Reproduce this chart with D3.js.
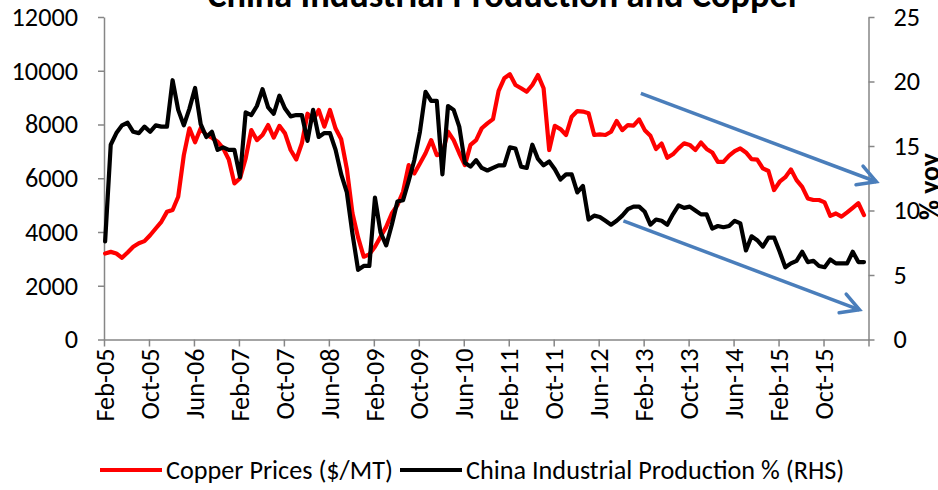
<!DOCTYPE html>
<html>
<head>
<meta charset="utf-8">
<script src="https://cdn.jsdelivr.net/npm/d3@7"></script>
<style>
  body { margin: 0; background: #fff; }
  svg { display: block; }
  text { font-family: Carlito, Lato, "Liberation Sans", sans-serif; fill: #000; }
</style>
</head>
<body>
<svg id="chart" width="938" height="490"></svg>
<script>
// monthly data, Feb-05 .. May-16
const startMonth = new Date(2005, 1, 1);

const copper = [
  3200, 3260, 3200, 3040, 3240, 3450, 3580, 3660, 3880, 4130, 4380,
  4750, 4820, 5310, 6860, 7860, 7340, 7860, 7610, 7510, 7360, 7110, 6700,
  5810, 6000, 6740, 7790, 7420, 7610, 7980, 7510, 7950, 7670, 7050, 6700,
  7300, 8400, 8170, 8540, 7920, 8540, 7850, 7450, 6350, 4700, 3800, 3080,
  3170, 3450, 3820, 4190, 4690, 5000, 5500, 6490, 6180, 6550, 6930, 7420,
  6860, 6930, 7730, 7420, 6930, 6490, 7240, 7420, 7860, 8040, 8200, 9250,
  9720, 9870, 9470, 9350, 9220, 9470, 9840, 9350, 7050, 7950, 7830, 7610,
  8290, 8500, 8480, 8420, 7610, 7630, 7610, 7730, 8130, 7790, 7980, 7960,
  8190, 7790, 7580, 7090, 7290, 6760, 6890, 7110, 7300, 7240, 7050, 7330,
  7090, 6960, 6610, 6610, 6840, 7010, 7110, 6960, 6710, 6690, 6370, 6270,
  5560, 5870, 6040, 6330, 5930, 5680, 5250, 5190, 5190, 5100, 4600, 4690,
  4570, 4730, 4900, 5070, 4630
];

const chinaIP = [
  7.6, 15.1, 16.0, 16.6, 16.8, 16.1, 16.0, 16.5, 16.1, 16.6, 16.5,
  16.5, 20.1, 17.8, 16.6, 17.9, 19.5, 16.7, 15.7, 16.1, 14.7, 14.9, 14.7,
  14.7, 12.6, 17.6, 17.4, 18.1, 19.4, 18.0, 17.5, 18.9, 17.9, 17.3, 17.4,
  17.4, 15.4, 17.8, 15.7, 16.0, 16.0, 14.7, 12.8, 11.4, 8.2, 5.4, 5.7,
  5.7, 11.0, 8.3, 7.3, 8.9, 10.7, 10.8, 12.3, 13.9, 16.1, 19.2, 18.5,
  18.5, 12.8, 18.1, 17.8, 16.5, 13.7, 13.4, 13.9, 13.3, 13.1, 13.3, 13.5,
  13.5, 14.9, 14.8, 13.4, 13.3, 15.1, 14.0, 13.5, 13.8, 13.2, 12.4, 12.8,
  12.8, 11.4, 11.9, 9.3, 9.6, 9.5, 9.2, 8.9, 9.2, 9.6, 10.1, 10.3,
  10.3, 9.9, 8.9, 9.3, 9.2, 8.9, 9.7, 10.4, 10.2, 10.3, 10.0, 9.7,
  9.7, 8.6, 8.8, 8.7, 8.8, 9.2, 9.0, 6.9, 8.0, 7.7, 7.2, 7.9,
  7.9, 6.8, 5.6, 5.9, 6.1, 6.8, 6.0, 6.1, 5.7, 5.6, 6.2, 5.9,
  5.9, 5.9, 6.8, 6.0, 6.0
];

const leftTicks = [0, 2000, 4000, 6000, 8000, 10000, 12000];
const rightTicks = [0, 5, 10, 15, 20, 25];
const monthTicks = d3.range(0, 137, 8);

// trend arrows: [month index, value] on copper axis / IP axis
const copperTrend = [[95.5, 9160], [137.4, 5870]];
const ipTrend = [[92.4, 9.2], [134.4, 2.3]];

const seriesNames = ["Copper Prices ($/MT)", "China Industrial Production % (RHS)"];
const title = "China Industrial Production and Copper";

const svg = d3.select("#chart");
const axisColor = "#868686";
const arrowColor = "#4a7ebb";

const x = d3.scaleLinear().domain([0, 136]).range([104, 868.5]);
const yL = d3.scaleLinear().domain([0, 12000]).range([339.5, 17]);
const yR = d3.scaleLinear().domain([0, 25]).range([339.5, 17]);
const fmt = d3.timeFormat("%b-%y");

// pick a font size so the legend text matches the reference width
function fitSize(str, weight, target) {
  const t = svg.append("text").style("font-size", "20px").style("font-weight", weight).text(str);
  const w = t.node().getComputedTextLength();
  t.remove();
  return 20 * target / w;
}
const fs = fitSize(seriesNames[0], "normal", 227);
const titleFs = fitSize(title, "bold", 594);

// axes
const gx = svg.append("g").attr("transform", "translate(0,339.5)")
  .call(d3.axisBottom(x).tickValues(monthTicks).tickSize(7).tickSizeOuter(0)
    .tickFormat(i => i < 136 ? fmt(d3.timeMonth.offset(startMonth, i)) : ""));
gx.selectAll("text")
  .attr("transform", "rotate(-90)")
  .attr("x", -9).attr("y", 0).attr("dy", "0.35em")
  .style("text-anchor", "end").style("font-size", fs + "px");

const gl = svg.append("g").attr("transform", "translate(104,0)")
  .call(d3.axisLeft(yL).tickValues(leftTicks).tickFormat(d3.format("d"))
    .tickSize(6).tickSizeOuter(0).tickPadding(20));
gl.selectAll("text").style("font-size", fs + "px");

const gr = svg.append("g").attr("transform", "translate(868.5,0)")
  .call(d3.axisRight(yR).tickValues(rightTicks).tickSize(6).tickSizeOuter(0).tickPadding(19));
gr.selectAll("text").style("font-size", fs + "px");

svg.selectAll(".domain, .tick line").attr("stroke", axisColor).attr("stroke-width", 1.5);
svg.selectAll(".tick text").attr("fill", "#000");

// series
const pos = i => x(i + 0.2);
const lineL = d3.line().x((d, i) => pos(i)).y(d => yL(d));
const lineR = d3.line().x((d, i) => pos(i)).y(d => yR(d));

svg.append("path").datum(copper).attr("d", lineL)
  .attr("fill", "none").attr("stroke", "#ff0000").attr("stroke-width", 4.2)
  .attr("stroke-linejoin", "round").attr("stroke-linecap", "round");
svg.append("path").datum(chinaIP).attr("d", lineR)
  .attr("fill", "none").attr("stroke", "#000000").attr("stroke-width", 4.2)
  .attr("stroke-linejoin", "round").attr("stroke-linecap", "round");

// arrows
svg.append("defs").append("marker")
  .attr("id", "open-arrow")
  .attr("markerUnits", "userSpaceOnUse")
  .attr("viewBox", "-22 -12 26 24")
  .attr("markerWidth", 26).attr("markerHeight", 24)
  .attr("refX", 0).attr("refY", 0)
  .attr("orient", "auto")
  .append("path")
  .attr("d", "M-18,-10 L0,0 L-18,10")
  .attr("fill", "none").attr("stroke", arrowColor).attr("stroke-width", 3.5)
  .attr("stroke-linecap", "round").attr("stroke-linejoin", "miter");

svg.append("line")
  .attr("x1", x(copperTrend[0][0])).attr("y1", yL(copperTrend[0][1]))
  .attr("x2", x(copperTrend[1][0])).attr("y2", yL(copperTrend[1][1]))
  .attr("stroke", arrowColor).attr("stroke-width", 3.5)
  .attr("marker-end", "url(#open-arrow)");
svg.append("line")
  .attr("x1", x(ipTrend[0][0])).attr("y1", yR(ipTrend[0][1]))
  .attr("x2", x(ipTrend[1][0])).attr("y2", yR(ipTrend[1][1]))
  .attr("stroke", arrowColor).attr("stroke-width", 3.5)
  .attr("marker-end", "url(#open-arrow)");

// title (partly cut off at the top, as in the reference)
svg.append("text").attr("x", 504).attr("y", 7)
  .attr("text-anchor", "middle")
  .style("font-weight", "bold").style("font-size", titleFs + "px")
  .text(title);

// right axis title
svg.append("text")
  .attr("transform", "translate(939,220) rotate(-90)")
  .attr("text-anchor", "start")
  .style("font-weight", "bold").style("font-size", (fs * 1.05) + "px")
  .text("% yoy");

// legend
const legend = [
  {name: seriesNames[0], color: "#ff0000", x: 100},
  {name: seriesNames[1], color: "#000000", x: 400}
];
const lg = svg.append("g").selectAll("g").data(legend).join("g")
  .attr("transform", d => `translate(${d.x},470)`);
lg.append("line").attr("x1", 0).attr("x2", 62).attr("y1", 0).attr("y2", 0)
  .attr("stroke", d => d.color).attr("stroke-width", 4.2);
lg.append("text").attr("x", 66).attr("y", 0).attr("dy", "0.35em")
  .style("font-size", fs + "px").text(d => d.name);
</script>
</body>
</html>
